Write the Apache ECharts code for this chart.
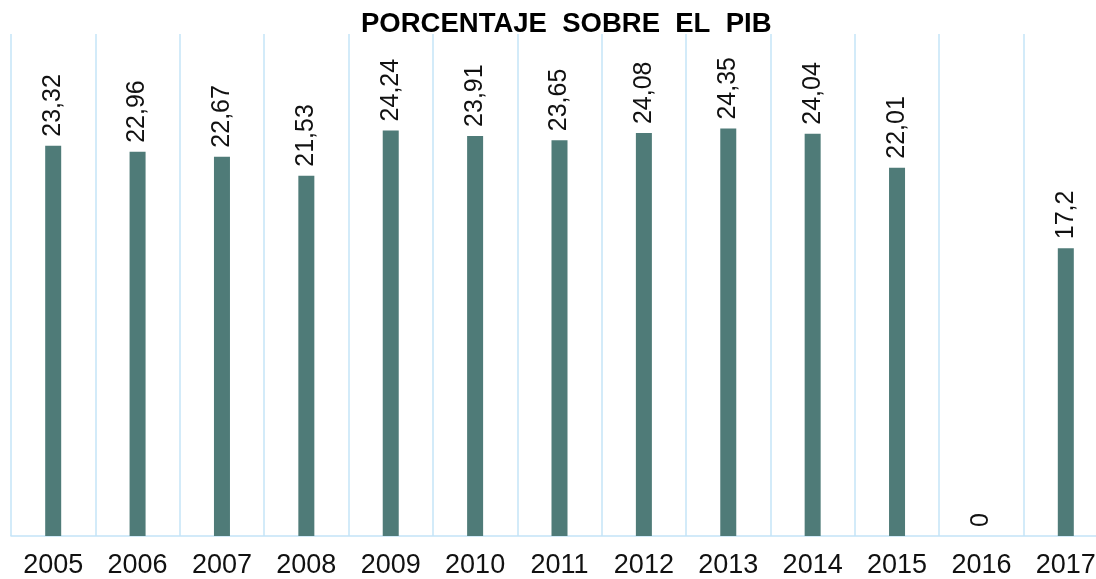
<!DOCTYPE html>
<html>
<head>
<meta charset="utf-8">
<script src="https://cdn.jsdelivr.net/npm/echarts@6/dist/echarts.min.js"></script>
<style>
html,body{margin:0;padding:0;background:#fff;overflow:hidden;width:1096px;height:579px;}
#chart{width:1110px;height:579px;}
</style>
</head>
<body>
<div id="chart"></div>
<script>
const titleText = 'PORCENTAJE  SOBRE  EL  PIB';
const years = ['2005','2006','2007','2008','2009','2010','2011','2012','2013','2014','2015','2016','2017'];
const values = [23.32, 22.96, 22.67, 21.53, 24.24, 23.91, 23.65, 24.08, 24.35, 24.04, 22.01, 0, 17.2];

const chart = echarts.init(document.getElementById('chart'), null, {renderer: 'canvas'});
chart.setOption({
  animation: false,
  backgroundColor: '#ffffff',
  title: {
    text: titleText,
    left: 361,
    top: 10,
    padding: 0,
    textStyle: {
      fontFamily: 'Liberation Sans, Arial, sans-serif',
      fontSize: 27.5,
      fontWeight: 'bold',
      color: '#000000'
    }
  },
  grid: {left: 11, top: 34, right: 2, bottom: 42, containLabel: false},
  xAxis: {
    type: 'category',
    data: years,
    boundaryGap: true,
    axisTick: {show: false},
    axisLine: {show: true, lineStyle: {color: '#c4e4f7', width: 1.5}},
    splitLine: {show: true, lineStyle: {color: '#c4e4f7', width: 1.5}},
    axisLabel: {
      margin: 16,
      fontFamily: 'Liberation Sans, Arial, sans-serif',
      fontSize: 27,
      color: '#111111'
    }
  },
  yAxis: {
    type: 'value',
    min: 0,
    max: 30,
    show: false,
    splitLine: {show: false}
  },
  series: [{
    type: 'bar',
    data: values,
    barWidth: 16,
    itemStyle: {color: '#4f7b78'},
    label: {
      show: true,
      position: 'top',
      rotate: 90,
      align: 'left',
      verticalAlign: 'middle',
      distance: 9,
      fontFamily: 'Liberation Sans, Arial, sans-serif',
      fontSize: 25,
      color: '#111111',
      formatter: p => String(p.value).replace('.', ',')
    }
  }]
});
</script>
</body>
</html>
